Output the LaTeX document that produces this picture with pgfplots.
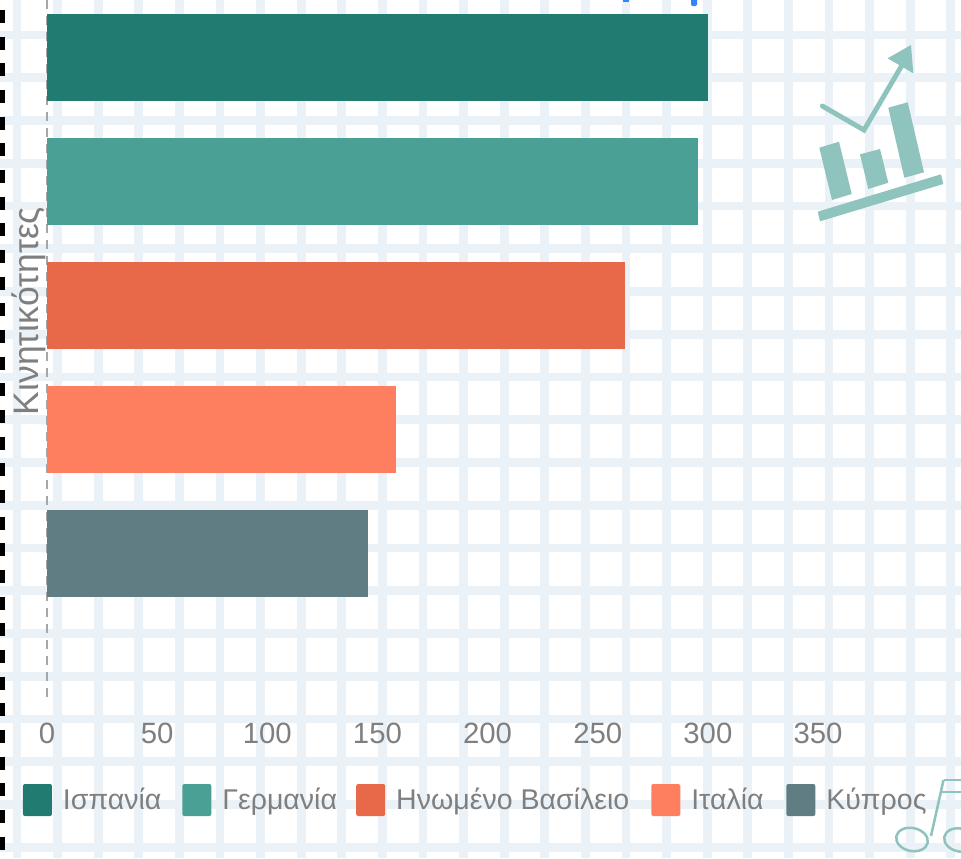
\documentclass[border=0pt]{standalone}
\usepackage{fontspec}
\setmainfont{Liberation Sans}
\usepackage{pgfplots}
\pgfplotsset{compat=1.18}
\definecolor{gridc}{HTML}{EBF2F7}
\definecolor{txt}{HTML}{7F7F7F}
\definecolor{ico}{HTML}{8FC3BD}
\definecolor{es}{HTML}{227B70}
\definecolor{de}{HTML}{4BA095}
\definecolor{uk}{HTML}{E8694A}
\definecolor{it}{HTML}{FE7F60}
\definecolor{cy}{HTML}{5F7D82}
\begin{document}
\begin{tikzpicture}[x=0.75pt,y=-0.75pt]
\useasboundingbox (0,0) rectangle (961,858);
\clip (0,0) rectangle (961,858);
\fill[white] (0,0) rectangle (961,858);
% background grid pattern
\foreach \k in {0,...,23}{
  \pgfmathsetmacro\gx{17+40.6*\k}
  \draw[gridc,line width=6.6pt] (\gx,0) -- (\gx,858);
}
\foreach \k in {0,...,19}{
  \pgfmathsetmacro\gy{35+42.75*\k}
  \draw[gridc,line width=6.6pt] (0,\gy) -- (961,\gy);
}
% left dotted border
\draw[black,line width=3.75pt,dash pattern=on 9.75pt off 10.25pt,dash phase=0pt] (2.5,10) -- (2.5,858);
% clipped title fragments
\fill[blue!60!cyan!80!white,rounded corners=1pt] (691,-4) rectangle (697,6);
\fill[blue!60!cyan!80!white] (623,-2) rectangle (629,1.5);
% icon
\begin{scope}[ico]
\fill (817.7,211.7) -- (941,174.3) -- (943.3,184) -- (820,221.3) -- cycle;
\fill (819.3,147.7) -- (839,141.7) -- (851.7,194) -- (832,200) -- cycle;
\fill (860,154.3) -- (880,149) -- (888.3,182.7) -- (868.3,189) -- cycle;
\fill (888.3,107.7) -- (907.7,102.3) -- (924,172.3) -- (904.3,177.7) -- cycle;
\draw[ico,line width=3.7pt,line cap=round,line join=miter] (822.3,106) -- (864,130) -- (901.7,65.7);
\fill (887.7,58.3) -- (911,45) -- (913.3,73.3) -- cycle;
\draw[line width=1.9pt] (943.5,780) -- (931,836);
\draw[line width=1.9pt] (943.5,780) -- (965,780);
\draw[line width=1.9pt] (941,792) -- (965,792);
\draw[line width=1.9pt,rotate around={-12:(912,839.5)}] (912,839.5) ellipse [x radius=16,y radius=11.5];
\draw[line width=1.9pt,rotate around={-12:(960,840)}] (960,840) ellipse [x radius=16,y radius=11.5];
\end{scope}
\begin{axis}[
  at={(21.33,0)},anchor=north west,
  scale only axis,width=685.5pt,height=525pt,
  xmin=0,xmax=414.9,ymin=0,ymax=700,y dir=reverse,
  axis y line=left,axis x line=bottom,
  x axis line style={draw=none,-},y axis line style={draw=none,-},
  xtick={0,50,100,150,200,250,300,350},
  ytick=\empty,
  major tick length=0pt,
  tick style={draw=none},
  scaled x ticks=false,
  /pgf/number format/assume math mode=true,
  xticklabel style={text=txt,font=\fontsize{22}{24}\selectfont,yshift=-13.75pt},
  ylabel={Κινητικότητες},
  every axis y label/.style={at={(axis cs:-8.2,311)},anchor=center,rotate=90,text=txt,font=\fontsize{26.6}{28}\selectfont},
  clip=false,
  legend columns=5,
  legend cell align=left,
  legend image code/.code={\fill[#1,draw=none,rounded corners=1.5pt] (0pt,-12pt) rectangle (21.75pt,12pt);},
  legend style={at={(axis cs:-10.9,800)},anchor=west,draw=none,fill=none,inner sep=0pt,outer sep=0pt,
    text=txt,font=\fontsize{21.4}{24}\selectfont,
    nodes={inner sep=0pt,outer sep=0pt},
    /tikz/column 1/.style={column sep=8.25pt},
    /tikz/column 2/.style={column sep=15.7pt},
    /tikz/column 3/.style={column sep=8.25pt},
    /tikz/column 4/.style={column sep=14.4pt},
    /tikz/column 5/.style={column sep=8.25pt},
    /tikz/column 6/.style={column sep=16.5pt},
    /tikz/column 7/.style={column sep=8.25pt},
    /tikz/column 8/.style={column sep=17pt},
    /tikz/column 9/.style={column sep=8.25pt}},
  bar style/.style={xbar,bar width=65.25pt,bar shift=0pt,draw=none},
]
\addplot[forget plot,sharp plot,gray!70,line width=1.2pt,dash pattern=on 7pt off 5pt,no markers] coordinates {(0,0) (0,700)};
\addplot[bar style,fill=es] coordinates {(300,57.5)};
\addplot[bar style,fill=de] coordinates {(295.5,181.5)};
\addplot[bar style,fill=uk] coordinates {(262.5,305.5)};
\addplot[bar style,fill=it] coordinates {(158.5,429.5)};
\addplot[bar style,fill=cy] coordinates {(145.6,553.5)};
\legend{Ισπανία,Γερμανία,Ηνωμένο Βασίλειο,Ιταλία,Κύπρος}
\end{axis}
\end{tikzpicture}
\end{document}
